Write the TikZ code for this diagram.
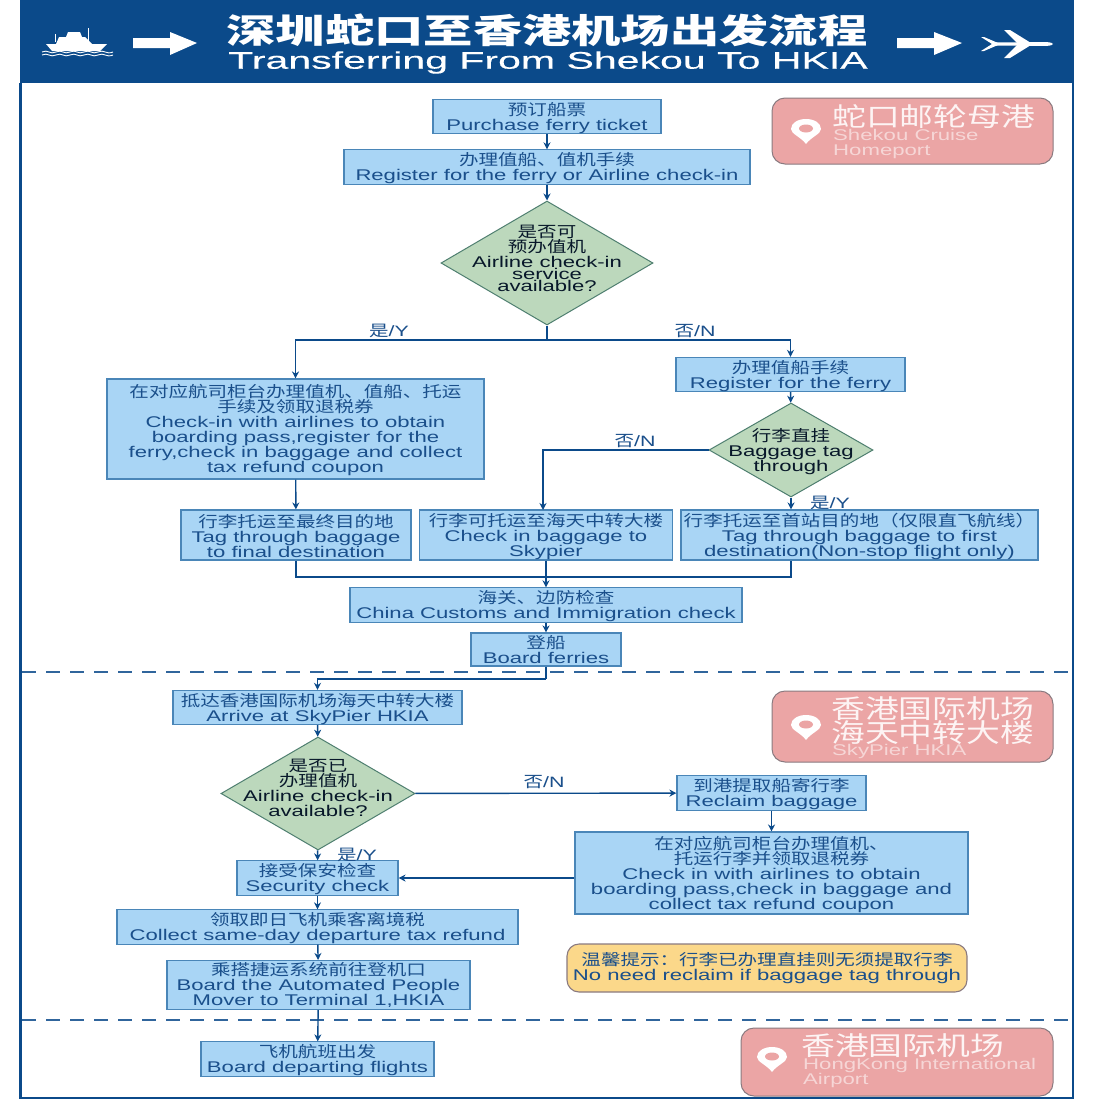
\documentclass[tikz,border=0pt]{standalone}
\usepackage{fontspec}
\setmainfont[FakeStretch=1.425]{Liberation Sans}
\newfontfamily\cjk[FakeStretch=1.26]{Noto Sans CJK SC}
\newfontfamily\cjkw[FakeStretch=1.3]{Noto Sans CJK SC}
\newfontfamily\cjkt[FakeStretch=1.45]{Noto Sans CJK SC}
\newfontfamily\ent[FakeStretch=1.71,FakeBold=0.4]{Liberation Sans}
\newfontfamily\enp[FakeStretch=1.43]{Liberation Sans}
\usetikzlibrary{arrows.meta,shapes.geometric}
\definecolor{navy}{HTML}{0B4A8A}
\definecolor{boxfill}{HTML}{A9D5F5}
\definecolor{boxline}{HTML}{4A86B8}
\definecolor{txt}{HTML}{1A4F8B}
\definecolor{dfill}{HTML}{BCD8BC}
\definecolor{dline}{HTML}{4F7F70}
\definecolor{pink}{HTML}{EBA5A5}
\definecolor{pinkline}{HTML}{8A7A80}
\definecolor{note}{HTML}{FBD88A}
\newcommand{\zh}[1]{{\cjk\fontsize{15.5}{15}\selectfont #1}}
\newcommand{\zf}[1]{{\cjk\fontsize{15.5}{15}\selectfont\rule{0pt}{16pt}#1}}
\tikzset{
 x=1pt,y=-1pt,
 box/.style={draw=boxline,fill=boxfill,line width=1.1pt,rectangle,inner sep=0pt,align=center,text=txt,
   font=\fontsize{15.5}{15}\selectfont},
 dec/.style={draw=dline,fill=dfill,line width=1pt,diamond,inner sep=0pt},
 dectext/.style={inner sep=0pt,align=center,text=black!70!txt,font=\fontsize{15.5}{15}\selectfont},
 lab/.style={inner sep=0pt,text=txt,font=\fontsize{15}{15}\selectfont},
 place/.style={draw=pinkline,fill=pink,line width=1pt,rounded corners=13pt,rectangle},
 placet/.style={inner sep=0pt,align=left,anchor=west,text=white!88!pink,font=\fontsize{26}{24}\selectfont},
 places/.style={inner sep=0pt,align=left,anchor=west,text=white!55!pink,font=\fontsize{15.5}{15}\selectfont},
 arr/.style={draw=navy,line width=1.4pt,-{Stealth[length=7pt,width=7pt]}},
 lin/.style={draw=navy,line width=1.4pt},
 sep/.style={draw=navy!85!white,line width=1.3pt,dash pattern=on 14pt off 10pt},
 pinicon/.style={fill=white,draw=none},
 hdrarrow/.style={fill=white,draw=none}
}
\newcommand{\pin}[1]{\begin{scope}[shift={(#1)}]
 \fill[pinicon] (0,13) .. controls (-5,6) and (-15,3) .. (-15,-2) .. controls (-15,-8) and (-8,-12) .. (0,-12) .. controls (8,-12) and (15,-8) .. (15,-2) .. controls (15,3) and (5,6) .. cycle;
 \fill[pink] (0,-2.5) ellipse[x radius=7,y radius=4];
 \end{scope}}
\begin{document}
\begin{tikzpicture}
\useasboundingbox (0,0) rectangle (1100,1100);
\fill[white] (0,0) rectangle (1100,1100);
% frame and header
\draw[navy,line width=2.5pt] (20.5,83) -- (20.5,1098) -- (1073,1098) -- (1073,83);
\fill[navy] (19.5,0) rectangle (1074,83);
\node[inner sep=0pt,text=white] (title) at (547,30) {\cjkt\bfseries\fontsize{34}{34}\selectfont 深圳蛇口至香港机场出发流程};
\node[inner sep=0pt,text=white] (titleen) at (548,62.5) {\ent\fontsize{24}{24}\selectfont Transferring From Shekou To HKIA};
% header arrows
\fill[hdrarrow] (133,38) -- (170,38) -- (170,32) -- (197,43) -- (170,55) -- (170,48) -- (133,48) -- cycle;
\fill[hdrarrow] (897,38) -- (934,38) -- (934,32) -- (962,43) -- (934,55) -- (934,48) -- (897,48) -- cycle;
% ship
\fill[white] (46,44) -- (107,44) -- (100,51) -- (52,51) -- cycle;
\fill[white] (56,44) -- (59,37) -- (85,37) -- (92,44) -- cycle;
\fill[white] (66,37) -- (68,32) -- (80,32) -- (82,37) -- cycle;
\draw[white,line width=1pt] (88,28) -- (88,42) (55,34) -- (55,42);
\foreach \yy in {52,55}{\draw[white,line width=.9pt] (42,\yy) .. controls (48,\yy-3) and (50,\yy+3) .. (56,\yy) .. controls (62,\yy-3) and (64,\yy+3) .. (70,\yy) .. controls (76,\yy-3) and (78,\yy+3) .. (84,\yy) .. controls (90,\yy-3) and (92,\yy+3) .. (98,\yy) .. controls (104,\yy-3) and (106,\yy+3) .. (113,\yy);}
% plane
\fill[white] (992,42.5) -- (1046,42) .. controls (1051,42.5) and (1053,43) .. (1053,44) .. controls (1053,45) and (1051,45.5) .. (1046,46) -- (992,45.5) -- cycle;
\fill[white] (1004,58) -- (1010,58) -- (1031,45) -- (1017,45) -- cycle;
\fill[white] (1004,30) -- (1010,30) -- (1031,43) -- (1017,43) -- cycle;
\fill[white] (981,37) -- (984,37) -- (998,43) -- (992,44) -- cycle;
\fill[white] (981,51) -- (984,51) -- (998,45) -- (992,44) -- cycle;
% separators
\draw[sep] (22,672) -- (1072,672);
\draw[sep] (22,1020) -- (1072,1020);
% place tags
\node[place,minimum width=281pt,minimum height=66pt] (p1) at (912.5,131) {};
\node[place,minimum width=281pt,minimum height=71pt] (p2) at (912.5,726.5) {};
\node[place,minimum width=312pt,minimum height=68pt] (p3) at (897,1062) {};
\pin{806,131}
\pin{806,727}
\pin{772,1059}
\node[placet] (p1a) at (832,117) {\cjkw 蛇口邮轮母港};
\node[places] (p1b) at (833,144) {\enp Shekou Cruise\\\enp Homeport};
\node[placet] (p2a) at (831,720.5) {\cjkw 香港国际机场\\\cjkw 海天中转大楼};
\node[places] (p2b) at (832,751.5) {\enp SkyPier HKIA};
\node[placet] (p3a) at (801,1046) {\cjkw 香港国际机场};
\node[places] (p3b) at (803,1073) {\enp HongKong International\\\enp Airport};
% boxes
\node[box,minimum width=228pt,minimum height=33pt] (a) at (547,116.5) {\zf{预订船票}\\Purchase ferry ticket};
\node[box,minimum width=406pt,minimum height=34pt] (b) at (547,167) {\zf{办理值船、值机手续}\\Register for the ferry or Airline check-in};
\node[dec,minimum width=212pt,minimum height=124pt,label={[dectext,yshift=5pt]center:{\zh{是否可}\\\zh{预办值机}\\Airline check-in\\[-3pt]service\\[-3pt]available?}}] (d1) at (547,263) {};
\node[box,minimum width=377pt,minimum height=100pt] (c) at (295.5,429) {\zf{在对应航司柜台办理值机、值船、托运}\\\zh{手续及领取退税券}\\Check-in with airlines to obtain\\boarding pass,register for the\\ferry,check in baggage and collect\\tax refund coupon};
\node[box,minimum width=229pt,minimum height=33pt] (e) at (790.5,374.5) {\zf{办理值船手续}\\Register for the ferry};
\node[dec,minimum width=164pt,minimum height=94pt,label={[dectext,yshift=-2pt]center:{\zh{行李直挂}\\Baggage tag\\through}}] (d2) at (791,450) {};
\node[box,minimum width=230pt,minimum height=50pt] (f) at (296,535) {\zf{行李托运至最终目的地}\\Tag through baggage\\to final destination};
\node[box,minimum width=253pt,minimum height=50pt] (g) at (546,535) {\zf{行李可托运至海天中转大楼}\\Check in baggage to\\Skypier};
\node[box,minimum width=357pt,minimum height=50pt] (h) at (859.5,535) {\zf{行李托运至首站目的地（仅限直飞航线）}\\Tag through baggage to first\\destination(Non-stop flight only)};
\node[box,minimum width=392pt,minimum height=34pt] (i) at (546,605) {\zf{海关、边防检查}\\China Customs and Immigration check};
\node[box,minimum width=150pt,minimum height=33pt] (j) at (546,649.5) {\zh{登船}\\Board ferries};
\node[box,minimum width=289pt,minimum height=33pt] (k) at (317.5,707.5) {\zf{抵达香港国际机场海天中转大楼}\\Arrive at SkyPier HKIA};
\node[dec,minimum width=194pt,minimum height=113pt,label={[dectext,yshift=6pt]center:{\zh{是否已}\\\zh{办理值机}\\Airline check-in\\available?}}] (d3) at (318,793.5) {};
\node[box,minimum width=189pt,minimum height=34pt] (l) at (771.5,793) {\zf{到港提取船寄行李}\\Reclaim baggage};
\node[box,minimum width=393pt,minimum height=82pt] (m) at (771.5,873) {\zf{在对应航司柜台办理值机、}\\\zh{托运行李并领取退税券}\\Check in with airlines to obtain\\boarding pass,check in baggage and\\collect tax refund coupon};
\node[box,minimum width=161pt,minimum height=33pt] (n) at (317.5,878) {\zf{接受保安检查}\\Security check};
\node[box,minimum width=401pt,minimum height=33pt] (o) at (317.5,927) {\zf{领取即日飞机乘客离境税}\\Collect same-day departure tax refund};
\node[box,minimum width=303pt,minimum height=49pt] (q) at (318.5,985) {\zh{乘搭捷运系统前往登机口}\\Board the Automated People\\Mover to Terminal 1,HKIA};
\node[box,minimum width=233pt,minimum height=33pt] (r) at (317.5,1059) {\zf{飞机航班出发}\\Board departing flights};
\node[box,draw=pinkline,fill=note,rounded corners=12pt,minimum width=400pt,minimum height=48pt] (tip) at (767,968) {\zh{温馨提示：行李已办理直挂则无须提取行李}\\No need reclaim if baggage tag through};
% junctions
\coordinate (s1) at (547,340);
\coordinate (s1l) at (295.5,340);
\coordinate (s1r) at (790.5,340);
\coordinate (s2) at (543,450);
\coordinate (gt) at (543,510);
\coordinate (mg) at (546,577);
\coordinate (mgl) at (296,577);
\coordinate (mgr) at (791,577);
\coordinate (jb) at (546,679);
\coordinate (jk) at (317.5,679);
% connectors
\draw[arr] (a) -- (b);
\draw[arr] (b) -- (d1);
\draw[lin] (d1) -- (s1);
\draw[arr] (s1) -- (s1l) -- (c);
\draw[arr] (s1) -- (s1r) -- (e);
\draw[arr] (e) -- (d2);
\draw[arr] (d2.west) -- (s2) -- (gt);
\draw[arr] (d2) -- (d2 |- h.north);
\draw[arr] (c) -- (f);
\draw[lin] (f) -- (mgl) -- (mgr) -- (mgr |- h.south);
\draw[lin] (g) -- (mg);
\draw[arr] (mg) -- (i);
\draw[arr] (i) -- (j);
\draw[lin] (j) -- (jb);
\draw[arr] (jb) -- (jk) -- (k);
\draw[arr] (k) -- (d3);
\draw[arr] (d3) -- (l);
\draw[arr] (l) -- (m);
\draw[arr] (d3) -- (n);
\draw[arr] (m.west |- n) -- (n);
\draw[arr] (n) -- (o);
\draw[arr] (o) -- (q);
\draw[arr] (q) -- (r);
% labels
\node[lab] (ly1) at (389,331) {\zh{是}/Y};
\node[lab] (ln1) at (695,331) {\zh{否}/N};
\node[lab] (ln2) at (635,441) {\zh{否}/N};
\node[lab] (ly2) at (830,503) {\zh{是}/Y};
\node[lab] (ln3) at (544,782) {\zh{否}/N};
\node[lab] (ly3) at (357,855) {\zh{是}/Y};
\end{tikzpicture}
\end{document}
